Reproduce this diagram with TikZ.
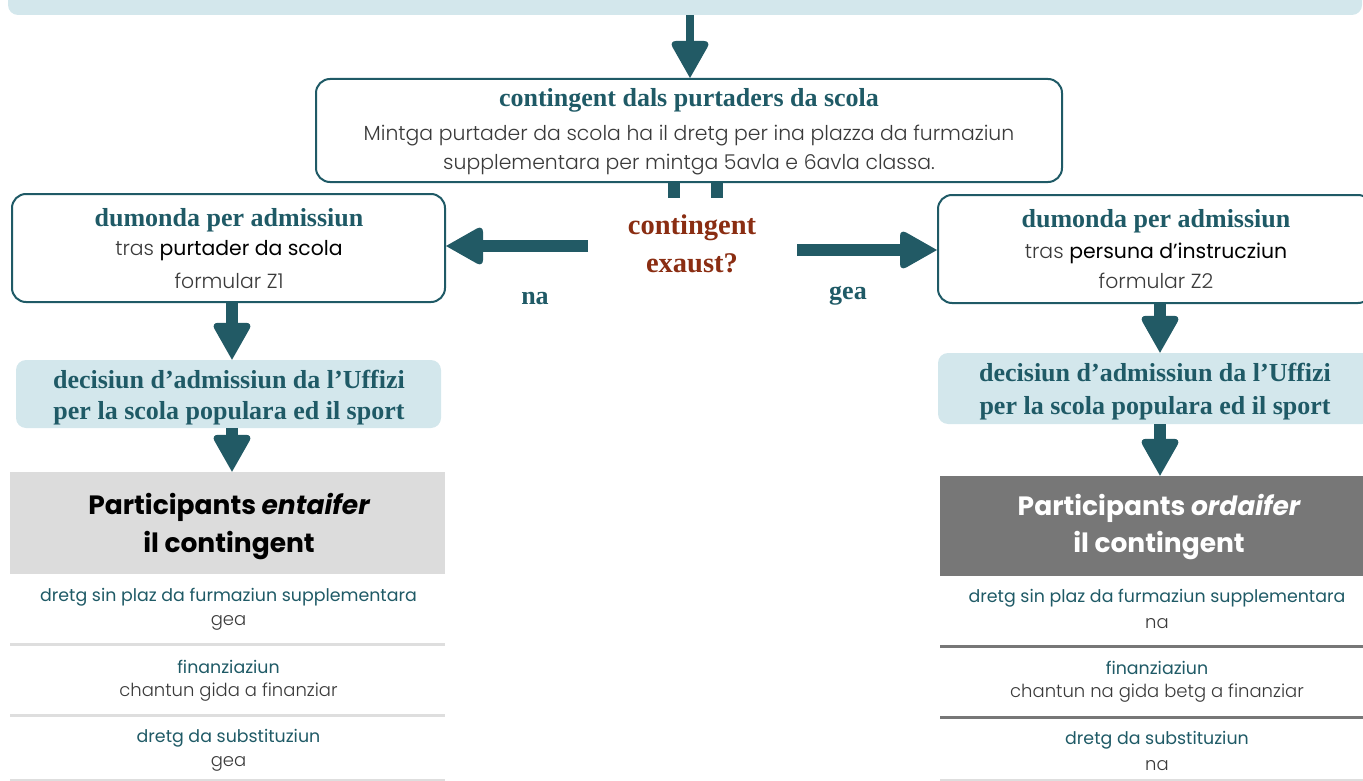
\documentclass[tikz,border=0pt]{standalone}
\usepackage{fontspec}
\setmainfont{Liberation Serif}
\setsansfont{Poppins}
\newfontfamily\plight{Poppins Light}
\usetikzlibrary{decorations.markings}
\definecolor{tealD}{HTML}{1F5A66}
\definecolor{arrowC}{HTML}{225A65}
\definecolor{lblue}{HTML}{D3E7EC}
\definecolor{redb}{HTML}{8A2D12}
\definecolor{lgray}{HTML}{DCDCDC}
\definecolor{dgray}{HTML}{777777}
\definecolor{txt}{HTML}{3A3A3A}
\definecolor{rulec}{HTML}{DEDEDE}
\begin{document}
\begin{tikzpicture}[x=1pt,y=-1pt,
  outbox/.style={draw=tealD, line width=2pt, rounded corners=14pt, fill=white, inner sep=0pt},
  bluebox/.style={fill=lblue, rounded corners=10pt, inner sep=0pt},
  ttl/.style={font=\fontsize{26}{30}\selectfont\bfseries, text=tealD, inner sep=0pt},
  qtxt/.style={font=\fontsize{28.5}{32}\selectfont\bfseries, text=redb, inner sep=0pt},
  bodyt/.style={font=\plight\fontsize{20.4}{24}\selectfont, text=txt, inner sep=0pt},
  rowh/.style={font=\sffamily\fontsize{17.4}{21}\selectfont, text=tealD, inner sep=0pt},
  rowv/.style={font=\plight\fontsize{18}{22}\selectfont, text=txt, inner sep=0pt},
  part/.style={font=\sffamily\bfseries\fontsize{26.5}{32}\selectfont, inner sep=0pt},
  bigarrow/.style={draw=arrowC, line width=#1, shorten >=18pt,
    postaction={decorate, decoration={markings, mark=at position 1 with {
      \fill[arrowC] (0pt,0pt) [rounded corners=7pt]-- (-37pt,21pt) -- (-37pt,-21pt) [sharp corners]-- cycle;}}}},
  bigarrow/.default=12pt,
  rowline/.style={line width=3pt}
]
\useasboundingbox (0,0) rectangle (1363,781);

% top box (cut off)
\node[bluebox, minimum width=1354pt, minimum height=75pt] (top) at (685,-22.5) {};

% central box
\node[outbox, minimum width=746pt, minimum height=103pt] (cbox) at (689,130.5) {};
\node[ttl] (ctitle) at (689,100) {contingent dals purtaders da scola};
\node[bodyt] (cl1) at (689,136) {Mintga purtader da scola ha il dretg per ina plazza da furmaziun};
\node[bodyt] (cl2) at (689,165) {supplementara per mintga 5avla e 6avla classa.};

\draw[bigarrow=8pt] (top.south -| 690,0) -- (cbox.north -| 690,0);

% stubs below central box
\fill[arrowC] (668,183) rectangle (680,198);
\fill[arrowC] (711,183) rectangle (723,198);

% question
\node[qtxt] (q1) at (692,228) {contingent};
\node[qtxt] (q2) at (692,263) {exaust?};

% side boxes
\node[outbox, minimum width=433pt, minimum height=108pt] (lbox) at (228.5,248) {};
\node[ttl] (lt) at (229,220) {dumonda per admissiun};
\node[bodyt] (l2) at (229,251) {tras {\sffamily\color{black}purtader da scola}};
\node[bodyt] (l3) at (229,281) {formular Z1};

\node[outbox, minimum width=434pt, minimum height=108pt] (rbox) at (1155,249) {};
\node[ttl] (rt) at (1156,221) {dumonda per admissiun};
\node[bodyt] (r2) at (1156,253) {tras {\sffamily\color{black}persuna d’instrucziun}};
\node[bodyt] (r3) at (1156,281) {formular Z2};

\coordinate (la) at (588,246);
\coordinate (ra) at (797,250);
\draw[bigarrow] (la) -- (lbox.east |- la);
\draw[bigarrow] (ra) -- (rbox.west |- ra);

\node[ttl] (na) at (535,298) {na};
\node[ttl] (gea) at (848,296) {gea};

% decision boxes
\node[bluebox, minimum width=425pt, minimum height=68pt] (ldec) at (228.5,394) {};
\node[ttl] (ld1) at (229,380) {decisiun d’admissiun da l’Uffizi};
\node[ttl] (ld2) at (229,413) {per la scola populara ed il sport};

\node[bluebox, minimum width=434pt, minimum height=71pt] (rdec) at (1155,388.5) {};
\node[ttl] (rd1) at (1155,373) {decisiun d’admissiun da l’Uffizi};
\node[ttl] (rd2) at (1155,408) {per la scola populara ed il sport};

\draw[bigarrow] (lbox.south -| 232,0) -- (ldec.north -| 232,0);
\draw[bigarrow] (rbox.south -| 1160,0) -- (rdec.north -| 1160,0);

% participants boxes
\node[fill=lgray, inner sep=0pt, minimum width=435pt, minimum height=102pt] (lpart) at (227.5,523) {};
\node[part, text=black] (lp1) at (229,507) {Participants \itshape entaifer};
\node[part, text=black] (lp2) at (229,546) {il contingent};

\node[fill=dgray, inner sep=0pt, minimum width=438pt, minimum height=100pt] (rpart) at (1159,526) {};
\node[part, text=white] (rp1) at (1159,508) {Participants \itshape ordaifer};
\node[part, text=white] (rp2) at (1159,546) {il contingent};

\draw[bigarrow] (ldec.south -| 232,0) -- (lpart.north -| 232,0);
\draw[bigarrow] (rdec.south -| 1160,0) -- (rpart.north -| 1160,0);

% left rows
\node[rowh] (lr1h) at (228.5,597) {dretg sin plaz da furmaziun supplementara};
\node[rowv] (lr1v) at (228.5,623) {gea};
\draw[rowline, rulec] (10,644) -- (445,644);
\node[rowh] (lr2h) at (228.5,667) {finanziaziun};
\node[rowv] (lr2v) at (228.5,692) {chantun gida a finanziar};
\draw[rowline, rulec] (10,715) -- (445,715);
\node[rowh] (lr3h) at (228.5,738) {dretg da substituziun};
\node[rowv] (lr3v) at (228.5,764) {gea};
\draw[rowline, rulec] (10,780) -- (445,780);

% right rows
\node[rowh] (rr1h) at (1157,598) {dretg sin plaz da furmaziun supplementara};
\node[rowv] (rr1v) at (1157,624) {na};
\draw[rowline, dgray] (940,646) -- (1363,646);
\node[rowh] (rr2h) at (1157,668) {finanziaziun};
\node[rowv] (rr2v) at (1157,693) {chantun na gida betg a finanziar};
\draw[rowline, dgray] (940,717) -- (1363,717);
\node[rowh] (rr3h) at (1157,740) {dretg da substituziun};
\node[rowv] (rr3v) at (1157,766) {na};
\draw[rowline, rulec] (940,780) -- (1363,780);
\end{tikzpicture}
\end{document}
